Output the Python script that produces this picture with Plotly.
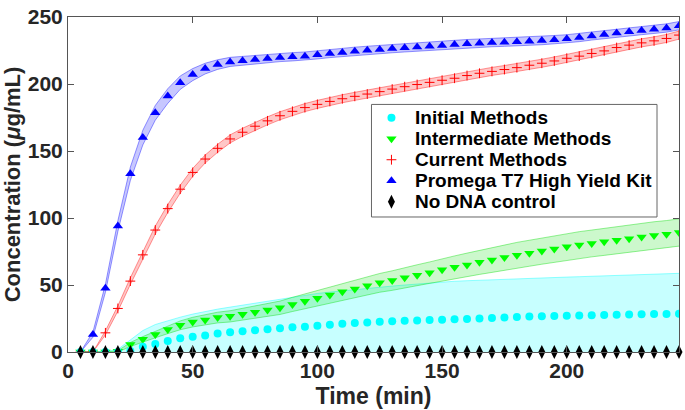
import plotly.graph_objects as go

time_min = [5, 10, 15, 20, 25, 30, 35, 40, 45, 50, 55, 60, 65, 70, 75, 80, 85, 90, 95, 100,
            105, 110, 115, 120, 125, 130, 135, 140, 145, 150, 155, 160, 165, 170, 175, 180,
            185, 190, 195, 200, 205, 210, 215, 220, 225, 230, 235, 240, 245]

initial_mean = [0, 0, 0, 0, 0.8, 4, 6, 8.3, 10.3, 11.3, 12.4, 13.8, 14.7, 15.5, 16.3, 17, 17.8,
                18.4, 18.9, 19.6, 20.3, 21, 21.6, 22.1, 22.6, 23, 23.3, 23.6, 23.9, 24.1, 24.4,
                24.6, 25, 25.4, 25.7, 26.1, 26.4, 26.7, 26.9, 27, 27.2, 27.4, 27.6, 27.8, 27.9,
                28.1, 28.3, 28.4, 28.5]
initial_sd = [0, 0, 0.3, 2, 8.2, 12, 14.5, 15.2, 15.7, 17, 17.9, 18.2, 18.8, 19.5, 20.2, 21,
              21.7, 22.6, 23.6, 24.1, 24.4, 24.7, 25, 25.4, 25.8, 26.2, 26.7, 27.2, 27.6, 28.1,
              28.4, 28.6, 28.6, 28.6, 28.7, 28.6, 28.6, 28.6, 28.7, 28.9, 29, 29.1, 29.2, 29.3,
              29.5, 29.7, 29.8, 30, 30.2]

intermediate_mean = [0, 0, 0, 0.5, 5.6, 9.5, 13.1, 16.7, 19.9, 22.3, 23.8, 25.7, 26.6, 28.2,
                     29.7, 31.3, 33, 35.5, 37.8, 40.2, 42.6, 45, 47.1, 49.4, 51.6, 53.3, 55.5,
                     57.3, 59.2, 61.3, 63.2, 65, 66.9, 68.6, 70.5, 72.2, 73.7, 75.3, 76.8, 78.5,
                     79.8, 81, 82.2, 83.4, 84.5, 85.8, 87, 87.9, 89.2]
intermediate_sd = [0, 0, 0, 0.5, 1.5, 2, 2.5, 3, 3.3, 3.6, 3.8, 4, 4.2, 4.4, 4.6, 4.8, 5, 5.3,
                   5.5, 5.8, 6, 6.3, 6.5, 6.8, 7, 7.3, 7.5, 7.8, 8, 8.3, 8.5, 8.8, 9, 9.2, 9.4,
                   9.6, 9.7, 9.8, 9.9, 10, 10, 10, 10.1, 10.1, 10.1, 10.2, 10.2, 10.2, 10.2]

current_mean = [0, 0, 14.3, 32.5, 52.9, 72.5, 91, 107, 121.5, 134, 144, 152, 159, 164, 168.5,
                172.5, 176.3, 179.6, 182.4, 184.8, 187, 189, 190.8, 192.5, 194.3, 196.2, 198,
                199.6, 201.2, 202.8, 204.3, 206.3, 208, 209.4, 210.8, 212.2, 214, 215.5, 217.2,
                219.2, 220.8, 222.8, 224.7, 227.2, 229, 230.7, 232.2, 234, 236.5]
current_sd = [0, 0, 1.5, 2, 2.5, 2.8, 3, 3, 3, 3, 3, 3, 3, 3, 3, 3, 3, 3, 3, 3, 3, 3, 3, 3, 3,
              3, 3, 3, 3, 3, 3, 3, 3, 3, 3, 3, 3, 3, 3, 3, 3, 3, 3, 3, 3, 3, 3, 3, 3]

promega_mean = [0, 13, 47.5, 94, 133, 160, 178.5, 191, 201, 207, 211.5, 214.5, 216.5, 217.4,
                218.3, 219.1, 219.8, 220.3, 220.8, 221.8, 222.8, 223.6, 224.4, 225.1, 225.8,
                226.4, 227, 227.6, 228.2, 228.8, 229.5, 230.1, 230.5, 230.9, 231.2, 231.5,
                231.9, 232.4, 233.1, 233.7, 234.7, 235.9, 237, 238.1, 238.9, 239.9, 240.8,
                241.8, 243.5]
promega_sd = [0, 2, 3, 4, 5, 5.5, 5.5, 5.5, 5, 4.5, 4, 3.6, 3.4, 3.3, 3.1, 3.1, 3.1, 3.1, 3.1,
              3.1, 3.1, 3.1, 3.1, 3.1, 3.1, 3.1, 3.1, 3.1, 3.1, 3.1, 3.1, 3.1, 3.1, 3.1, 3.1,
              3.1, 3.1, 3.1, 3.1, 3.1, 3.1, 3.1, 3.1, 3.1, 3.1, 3.1, 3.1, 3.1, 3.1]

no_dna_mean = [0] * len(time_min)

x_ticks = [0, 50, 100, 150, 200]
y_ticks = [0, 50, 100, 150, 200, 250]

legend_labels = ["Initial Methods", "Intermediate Methods", "Current Methods",
                 "Promega T7 High Yield Kit", "No DNA control"]

FONT = "Liberation Sans, Arial, sans-serif"
TXT = "#262626"

# marker styles per series (same order as legend_labels)
styles = [
    dict(symbol="circle", size=8, color="#00FFFF"),
    dict(symbol="triangle-down", size=9, color="#00FF00"),
    dict(symbol="cross-thin", size=7, color="#FF0000", line=dict(color="#FF0000", width=1)),
    dict(symbol="triangle-up", size=9, color="#0000FF"),
    dict(symbol="diamond-tall", size=10, color="#000000"),
]

fig = go.Figure()


def add_band(mean, sd, rgb, alpha_fill=0.22, alpha_edge=0.4):
    lo = [m - s for m, s in zip(mean, sd)]
    hi = [m + s for m, s in zip(mean, sd)]
    edge = f"rgba({rgb},{alpha_edge})"
    fig.add_trace(go.Scatter(x=time_min, y=lo, mode="lines", line=dict(color=edge, width=1),
                             showlegend=False, hoverinfo="skip"))
    fig.add_trace(go.Scatter(x=time_min, y=hi, mode="lines", line=dict(color=edge, width=1),
                             fill="tonexty", fillcolor=f"rgba({rgb},{alpha_fill})",
                             showlegend=False, hoverinfo="skip"))


add_band(initial_mean, initial_sd, "0,255,255")
add_band(intermediate_mean, intermediate_sd, "0,220,0", 0.2)
add_band(current_mean, current_sd, "255,0,0")
add_band(promega_mean, promega_sd, "0,0,255")

series = [initial_mean, intermediate_mean, current_mean, promega_mean, no_dna_mean]
draw_order = [3, 2, 1, 0, 4]
for i in draw_order:
    fig.add_trace(go.Scatter(x=time_min, y=series[i], mode="markers", name=legend_labels[i],
                             showlegend=False, cliponaxis=(i != 4), marker=styles[i]))

# custom legend (compact MATLAB-like spacing)
leg_x0, leg_x1, leg_y0, leg_y1 = 0.4967, 0.964, 0.403, 0.739
sym_x, txt_x = 0.5294, 0.5654
row_y = [0.6994, 0.6368, 0.5739, 0.5110, 0.4484]
fig.add_shape(type="rect", xref="paper", yref="paper", x0=leg_x0, x1=leg_x1, y0=leg_y0, y1=leg_y1,
              line=dict(color="#666666", width=1), fillcolor="white", layer="below")
for i, lab in enumerate(legend_labels):
    fig.add_trace(go.Scatter(x=[sym_x], y=[row_y[i]], xaxis="x2", yaxis="y2", mode="markers",
                             marker=styles[i], showlegend=False, hoverinfo="skip"))
    fig.add_annotation(x=txt_x, y=row_y[i], xref="paper", yref="paper", text=lab,
                       showarrow=False, xanchor="left", yanchor="middle",
                       font=dict(family=FONT, size=19, color="#000000", weight="bold"))

axis_common = dict(showline=True, linecolor="#555555", linewidth=1, mirror="ticks",
                   ticks="inside", ticklen=6, tickcolor="#555555", showgrid=False,
                   zeroline=False, ticklabeloverflow="allow",
                   tickfont=dict(family=FONT, size=21, color=TXT, weight="bold"))

fig.update_layout(
    width=685, height=410,
    margin=dict(l=68, r=5, t=7, b=58),
    plot_bgcolor="white", paper_bgcolor="white",
    showlegend=False,
    xaxis=dict(range=[0, 245], tickvals=x_ticks,
               title=dict(text="Time (min)", font=dict(family=FONT, size=23, color=TXT, weight="bold"),
                          standoff=6),
               **axis_common),
    yaxis=dict(range=[0, 250], tickvals=y_ticks,
               title=dict(text="Concentration (<i>μ</i>g/mL)",
                          font=dict(family=FONT, size=22, color=TXT, weight="bold"), standoff=5),
               **axis_common),
    xaxis2=dict(overlaying="x", range=[0, 1], visible=False, fixedrange=True),
    yaxis2=dict(overlaying="y", range=[0, 1], visible=False, fixedrange=True),
)

fig.write_html("out.html", config={"displayModeBar": False},
               post_script="document.body.style.margin='0';")
